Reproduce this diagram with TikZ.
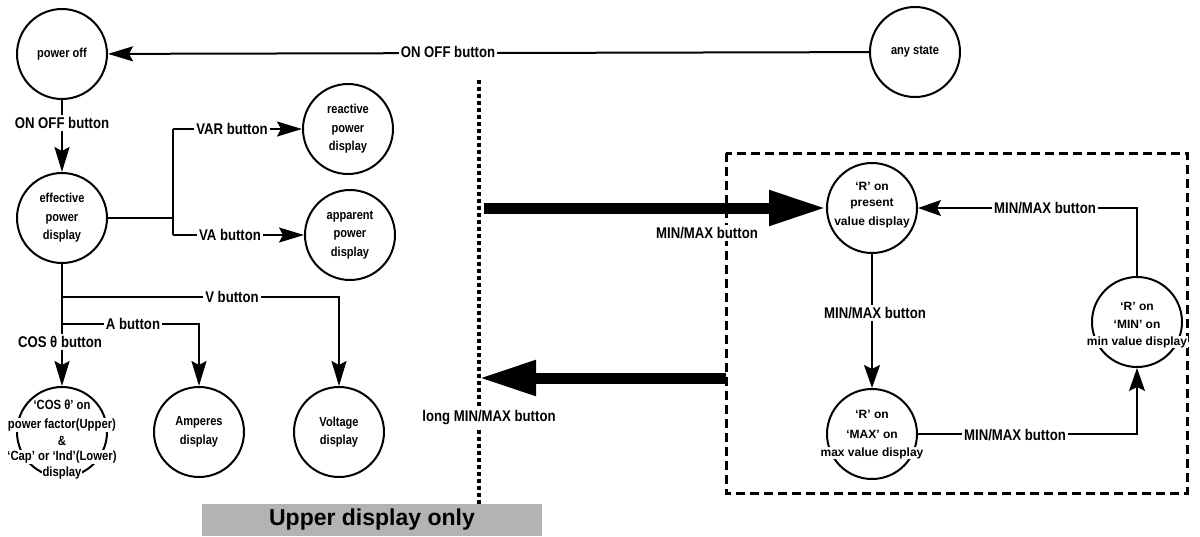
\documentclass[tikz,border=0pt]{standalone}
\usepackage{fontspec}
\setmainfont{Liberation Sans}
\newfontfamily\narrowfont{Liberation Sans}[FakeStretch=0.85]
\usetikzlibrary{arrows.meta}
\definecolor{boxgray}{RGB}{179,179,179}
\begin{document}
\begin{tikzpicture}[x=1pt,y=-1pt,
  st/.style={circle,draw,line width=2pt,minimum size=90pt,inner sep=0pt,align=center,
    font=\narrowfont\bfseries\fontsize{13}{18.5}\selectfont},
  rst/.style={circle,draw,line width=2pt,minimum size=90pt,inner sep=0pt},
  ln/.style={line width=2pt},
  arr/.style={line width=2pt,-{Stealth[length=25pt,width=15pt,inset=4pt]}},
  rarr/.style={line width=1.7pt,-{Stealth[length=23pt,width=16pt,inset=4pt]}},
  rln/.style={line width=1.7pt},
  lab/.style={fill=white,inner sep=2pt,font=\narrowfont\bfseries\fontsize{15.5}{18}\selectfont},
  ctext/.style={fill=white,inner sep=0.6pt,font=\narrowfont\bfseries\fontsize{13.3}{15}\selectfont},
  rtext/.style={fill=white,inner sep=0.6pt,font=\bfseries\fontsize{12}{14}\selectfont},
  bigarrow/.style={line width=11pt,-{Triangle[length=57pt,width=33pt]}}
]
\useasboundingbox (0,0) rectangle (1200,536);

% dashed frame and dotted divider
\draw[line width=3pt,dash pattern=on 9pt off 5pt] (726,153) rectangle (1187,493);
\coordinate (dtop) at (479,80);
\coordinate (dbot) at (479,504);
\draw[line width=3.2pt,dash pattern=on 3.5pt off 3.5pt] (dtop) -- (dbot);

% states (left)
\node[st] (poweroff) at (62,54) {power off};
\node[st] (anystate) at (915,52) {any state};
\node[st] (effective) at (62,218) {effective\\power\\display};
\node[st] (reactive) at (348,129) {reactive\\power\\display};
\node[st] (apparent) at (350,235) {apparent\\power\\display};
\node[st] (cos) at (62,432) {};
\node[st] (amperes) at (199,432) {Amperes\\display};
\node[st] (voltage) at (339,432) {Voltage\\display};

% states (right)
\node[rst] (present) at (872,208) {};
\node[rst] (max) at (872,434) {};
\node[rst] (min) at (1137,322) {};

% connectors left
\draw[arr] (anystate) -- (poweroff);
\node[lab] (lonoff1) at (448,52) {ON OFF button};

\draw[arr] (poweroff) -- (effective);
\node[lab] (lonoff2) at (62,123) {ON OFF button};

\coordinate (j1) at (173,218);
\coordinate (jvar) at (173,129);
\coordinate (jva) at (173,235);
\draw[ln] (effective.east) -- (j1);
\draw[ln] (jvar) -- (jva);
\draw[arr] (jvar) -- (reactive);
\node[lab] (lvar) at (232,129) {VAR button};
\draw[arr] (jva) -- (apparent);
\node[lab] (lva) at (230,235) {VA button};

\coordinate (jv) at (62,297);
\coordinate (ja) at (62,324);
\draw[arr] (effective) -- (cos);
\draw[arr] (jv) -| (voltage);
\draw[arr] (ja) -| (amperes);
\node[lab] (lv) at (232,297) {V button};
\node[lab] (la) at (133,324) {A button};
\node[lab] (lcos) at (60,342) {COS θ button};

% COS circle text
\node[ctext] (c1) at (62,405) {‘COS θ’ on};
\node[ctext] (c2) at (62,425) {power factor(Upper)};
\node[ctext] (c3) at (62,441) {\&};
\node[ctext] (c4) at (62,457) {‘Cap’ or ‘Ind’(Lower)};
\node[ctext] (c5) at (62,473) {display};

% right circle text
\node[rtext] (p1) at (872,186) {‘R’ on};
\node[rtext] (p2) at (872,204) {present};
\node[rtext] (p3) at (872,222) {value display};
\node[rtext] (m1) at (872,414) {‘R’ on};
\node[rtext] (m2) at (872,434) {‘MAX’ on};
\node[rtext] (m3) at (872,453) {max value display};
\node[rtext] (n1) at (1137,306) {‘R’ on};
\node[rtext] (n2) at (1137,324) {‘MIN’ on};
\node[rtext] (n3) at (1137,342) {min value display};

% thick arrows
\coordinate (t1s) at (484,208);
\draw[bigarrow] (t1s) -- (present);
\coordinate (t2s) at (726,378);
\coordinate (t2e) at (479,378);
\draw[bigarrow] (t2s) -- (t2e);
\node[lab] (lmm1) at (707,233) {MIN/MAX button};
\node[lab] (lmm2) at (489,418) {long MIN/MAX button};

% right cycle
\draw[rarr] (present) -- (max);
\node[lab] (lmm3) at (875,313) {MIN/MAX button};
\draw[rarr] (max.east) -- (max.east -| min) -- (min);
\node[lab] (lmm4) at (1015,435) {MIN/MAX button};
\draw[rarr] (min) |- (present);
\node[lab] (lmm5) at (1045,208) {MIN/MAX button};

% legend box
\node[fill=boxgray,minimum width=340pt,minimum height=32pt,inner sep=0pt,
  font=\bfseries\fontsize{23}{26}\selectfont] (upper) at (372,520) {Upper display only};
\end{tikzpicture}
\end{document}
